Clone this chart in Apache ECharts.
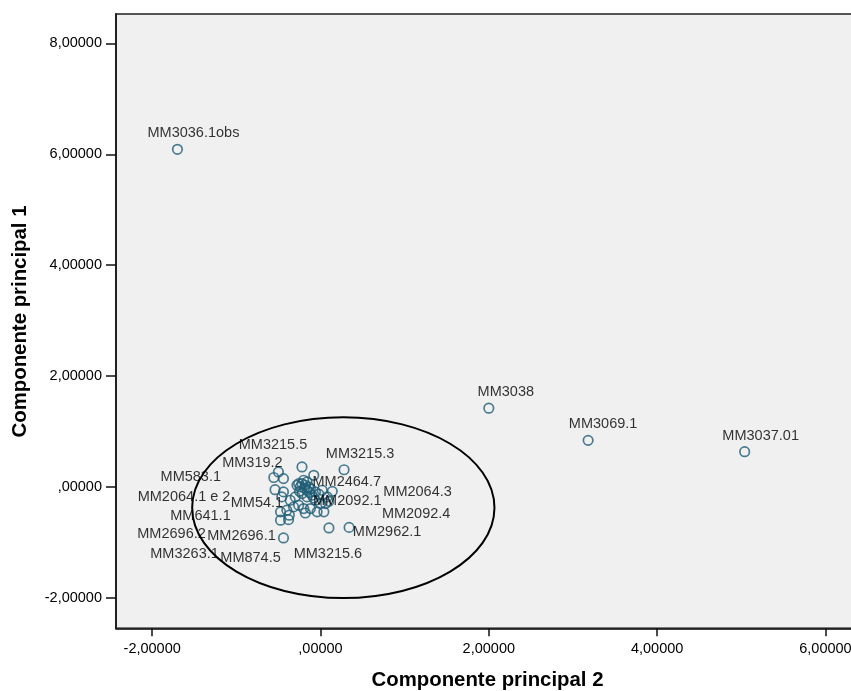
<!DOCTYPE html>
<html>
<head>
<meta charset="utf-8">
<script src="https://cdn.jsdelivr.net/npm/echarts@6/dist/echarts.min.js"></script>
<style>
  html, body { margin: 0; padding: 0; background: #fff; }
  #chart { width: 851px; height: 691px; }
</style>
</head>
<body>
<div id="chart"></div>
<script>
// componente principal 2 (x), componente principal 1 (y), etiqueta
const pc2 = [-1.70, 2.00, 3.18, 5.04, -0.22, 0.28, -0.50, -0.555, -0.08, -0.54,
  -0.28, 0.14, -0.44, -0.475, -0.44, -0.475, -0.38, 0.10, 0.34, 0.06, -0.04,
  -0.44, -0.20, -0.26, -0.16, -0.22, -0.22, -0.30, -0.36, -0.16, -0.10, -0.12,
  -0.16, -0.46, 0.02, -0.06, -0.06, 0.00, 0.04, -0.12, -0.20, -0.26, -0.32,
  -0.40, -0.37, -0.18, -0.24, -0.18, -0.14, -0.19, -0.13, -0.08, 0.08, 0.10,
  -0.02, -0.25];
const pc1 = [6.09, 1.42, 0.84, 0.635, 0.36, 0.31, 0.27, 0.17, 0.21, -0.05,
  0.03, -0.08, -0.09, -0.60, -0.92, -0.45, -0.59, -0.74, -0.73, -0.30, -0.45,
  0.15, 0.12, 0.06, 0.09, 0.06, -0.12, -0.18, -0.24, -0.18, -0.15, -0.03,
  -0.06, -0.18, -0.06, -0.09, -0.24, -0.30, -0.45, -0.39, -0.39, -0.33, -0.36,
  -0.42, -0.51, -0.47, 0.00, 0.03, 0.00, -0.02, -0.10, -0.20, -0.18, -0.26,
  -0.13, -0.08];
const names = ["MM3036.1obs", "MM3038", "MM3069.1", "MM3037.01", "MM3215.5",
  "MM3215.3", "MM319.2", "MM583.1", "MM2464.7", "MM2064.1 e 2", "MM54.1",
  "MM2092.1", "MM641.1", "MM2696.2", "MM2696.1", "MM3263.1", "MM874.5",
  "MM3215.6", "MM2962.1", "MM2064.3", "MM2092.4"];

// elipse: centro x, centro y, radio x, radio y
const ellipse = [[0.271, -0.374, 1.796, 1.63]];

const xTicks = [-2, 0, 2, 4, 6];
const yTicks = [-2, 0, 2, 4, 6, 8];

// desplazamiento de las etiquetas (px) respecto al punto
const labelShift = {
  "MM3036.1obs": [16, -16], "MM3038": [17, -16], "MM3069.1": [15, -16],
  "MM3037.01": [16, -16], "MM3215.5": [-29, -22], "MM3215.3": [16, -16],
  "MM319.2": [-26, -9], "MM583.1": [-83, 0], "MM2464.7": [33, 7],
  "MM2064.1 e 2": [-91, 7], "MM54.1": [-40, 18], "MM2092.1": [15, 10],
  "MM641.1": [-83, 24], "MM2696.2": [-109, 14], "MM2696.1": [-42, -2],
  "MM3263.1": [-96, 42], "MM874.5": [-38, 38], "MM3215.6": [-1, 26],
  "MM2962.1": [38, 5], "MM2064.3": [92, -12], "MM2092.4": [99, 2]
};

const fmt = v => {
  let s = v.toFixed(5).replace(".", ",");
  if (s.startsWith("0,")) s = s.slice(1);
  return s;
};

const font = "'Liberation Sans', Arial, sans-serif";
const points = pc2.map((x, i) => ({ value: [x, pc1[i]], name: names[i] || "" }));

const chart = echarts.init(document.getElementById("chart"));
chart.setOption({
  animation: false,
  grid: {
    left: 116, right: -5, top: 14, bottom: 62.7,
    outerBoundsMode: "none",
    show: true, backgroundColor: "#f0f0f0",
    borderColor: "#555", borderWidth: 2
  },
  xAxis: {
    type: "value", min: -2.43, max: 6.363,
    axisLine: { onZero: false, lineStyle: { color: "#111", width: 1.5 } },
    axisTick: { customValues: xTicks, length: 8, lineStyle: { color: "#111", width: 1.5 } },
    axisLabel: { customValues: xTicks, formatter: fmt, color: "#000", fontSize: 14.5, fontFamily: font, margin: 13 },
    splitLine: { show: false }
  },
  yAxis: {
    type: "value", min: -2.55, max: 8.53,
    axisLine: { onZero: false, lineStyle: { color: "#111", width: 1.5 } },
    axisTick: { customValues: yTicks, length: 10, lineStyle: { color: "#111", width: 1.5 } },
    axisLabel: { customValues: yTicks, formatter: fmt, color: "#000", fontSize: 14.5, fontFamily: font, margin: 14 },
    splitLine: { show: false }
  },
  graphic: [
    {
      type: "text", x: 487.5, y: 680.5, scaleX: 0.97,
      style: { text: "Componente principal 2", fontSize: 21, fontWeight: "bold",
        fontFamily: font, fill: "#000", textAlign: "center", textVerticalAlign: "middle" }
    },
    {
      type: "text", x: 20.7, y: 321.5, rotation: Math.PI / 2, scaleX: 0.97,
      style: { text: "Componente principal 1", fontSize: 21, fontWeight: "bold",
        fontFamily: font, fill: "#000", textAlign: "center", textVerticalAlign: "middle" }
    }
  ],
  series: [
    {
      type: "custom",
      data: ellipse,
      silent: true,
      renderItem: (params, api) => {
        const c = api.coord([api.value(0), api.value(1)]);
        const s = api.size([api.value(2), api.value(3)]);
        return {
          type: "ellipse",
          shape: { cx: c[0], cy: c[1], rx: s[0], ry: s[1] },
          style: { fill: "none", stroke: "#000", lineWidth: 2 }
        };
      }
    },
    {
      type: "scatter",
      data: points,
      symbol: "circle",
      symbolSize: 9.5,
      itemStyle: { color: "rgba(0,0,0,0)", borderColor: "#1f5d75", borderWidth: 1.7 },
      label: {
        show: true, position: "inside", formatter: "{b}",
        color: "#000", fontSize: 14.5, fontFamily: font,
        textBorderWidth: 0, align: "center", verticalAlign: "middle"
      },
      labelLayout: params => {
        const d = labelShift[names[params.dataIndex]] || [0, 0];
        return { dx: d[0], dy: d[1] };
      }
    }
  ]
});
</script>
</body>
</html>
